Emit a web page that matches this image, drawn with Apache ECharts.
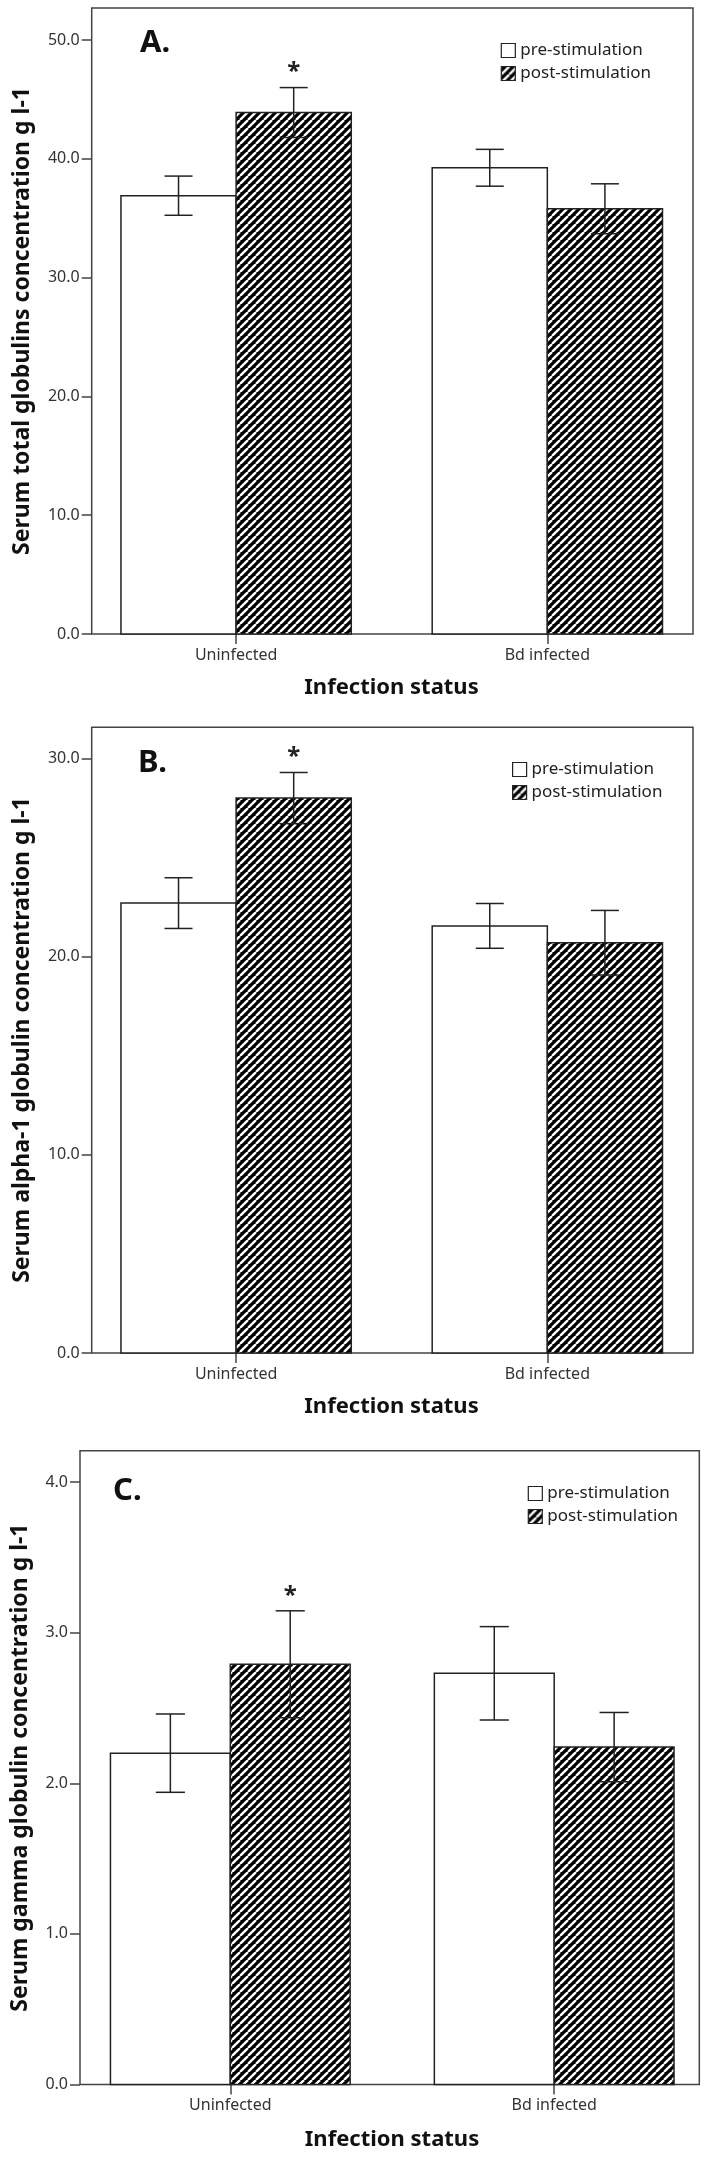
<!DOCTYPE html>
<html><head><meta charset="utf-8">
<script src="https://cdn.jsdelivr.net/npm/echarts@6/dist/echarts.min.js"></script>
<style>html,body{margin:0;padding:0;background:#fff}#c{width:709px;height:2157px}</style>
</head><body><div id="c"></div>
<script>
// ---- data ----
const categories = ['Uninfected', 'Bd infected'];
const seriesNames = ['pre-stimulation', 'post-stimulation'];
const totalPre = [36.9, 39.25];
const totalPreSE = [1.65, 1.55];
const totalPost = [43.9, 35.8];
const totalPostSE = [2.1, 2.1];
const alphaPre = [22.7, 21.55];
const alphaPreSE = [1.28, 1.13];
const alphaPost = [28.0, 20.7];
const alphaPostSE = [1.29, 1.63];
const gammaPre = [2.20, 2.73];
const gammaPreSE = [0.26, 0.31];
const gammaPost = [2.79, 2.24];
const gammaPostSE = [0.355, 0.23];
const significant = [true, false];
const totalTicks = [0, 10, 20, 30, 40, 50];
const alphaTicks = [0, 10, 20, 30];
const gammaTicks = [0, 1, 2, 3, 4];
const panelLetters = ['A.', 'B.', 'C.'];
const yTitles = ['Serum total globulins concentration g l-1', 'Serum alpha-1 globulin concentration g l-1', 'Serum gamma globulin concentration g l-1'];
const xTitle = 'Infection status';

// ---- layout ----
const FONT = 'Noto Sans';
const BW = 0.37;      // bar width in category units
const CAP = 0.09;     // error cap width in category units
const panels = [
  {pre: totalPre, preSE: totalPreSE, post: totalPost, postSE: totalPostSE, ticks: totalTicks, yMax: 52.7,
   left: 91.7, right: 16, top: 8, height: 626, xMin: -0.464, xMax: 1.468,
   legend: [500.7, 42], letter: [140, 43.5], yT: [22.7, 321], xT: [391.5, 688]},
  {pre: alphaPre, preSE: alphaPreSE, post: alphaPost, postSE: alphaPostSE, ticks: alphaTicks, yMax: 31.57,
   left: 91.7, right: 16, top: 727.3, height: 625.7, xMin: -0.464, xMax: 1.468,
   legend: [512, 761], letter: [138, 763.3], yT: [22, 1040], xT: [391.5, 1406.4]},
  {pre: gammaPre, preSE: gammaPreSE, post: gammaPost, postSE: gammaPostSE, ticks: gammaTicks, yMax: 4.208,
   left: 80, right: 9.7, top: 1450.7, height: 633.8, xMin: -0.464, xMax: 1.448,
   legend: [527.7, 1485], letter: [113, 1490.7], yT: [20.2, 1767.6], xT: [392, 2139.3]}
];

function makeHatch(p, w) {
  const c = document.createElement('canvas');
  c.width = p; c.height = p;
  const g = c.getContext('2d');
  g.fillStyle = '#000'; g.fillRect(0, 0, p, p);
  g.strokeStyle = '#fff'; g.lineWidth = w;
  for (const k of [-p, 0, p]) { g.beginPath(); g.moveTo(k, p); g.lineTo(k + p, 0); g.stroke(); }
  return c;
}
const hatch = {image: makeHatch(8, 2.4), repeat: 'repeat'};

function renderer(isPost) {
  return function (params, api) {
    const cat = api.value(0), v = api.value(1), se = api.value(2), sig = api.value(3);
    const x0 = isPost ? cat : cat - BW, x1 = isPost ? cat + BW : cat, xc = (x0 + x1) / 2;
    const tl = api.coord([x0, v]), br = api.coord([x1, 0]);
    const et = api.coord([xc, v + se]), eb = api.coord([xc, v - se]);
    const cap = api.size([CAP, 0])[0] / 2;
    const ls = {stroke: '#222', lineWidth: 1.5};
    const children = [
      {type: 'rect', shape: {x: tl[0], y: tl[1], width: br[0] - tl[0], height: br[1] - tl[1]},
       style: {fill: isPost ? hatch : '#fff', stroke: '#222', lineWidth: 1.5}},
      {type: 'line', shape: {x1: et[0], y1: et[1], x2: eb[0], y2: eb[1]}, style: ls},
      {type: 'line', shape: {x1: et[0] - cap, y1: et[1], x2: et[0] + cap, y2: et[1]}, style: ls},
      {type: 'line', shape: {x1: eb[0] - cap, y1: eb[1], x2: eb[0] + cap, y2: eb[1]}, style: ls}
    ];
    if (isPost && sig) {
      children.push({type: 'text', x: et[0], y: et[1] - 15,
        style: {text: '*', fontSize: 24, fontWeight: 'bold', fontFamily: FONT, fill: '#222', align: 'center', verticalAlign: 'middle'}});
    }
    return {type: 'group', children};
  };
}

const grid = [], xAxis = [], yAxis = [], series = [], legend = [], graphic = [];
panels.forEach((p, i) => {
  grid.push({left: p.left, right: p.right, top: p.top, height: p.height, show: true,
    borderColor: '#444', borderWidth: 1.5, containLabel: false});
  xAxis.push({type: 'value', gridIndex: i, min: p.xMin, max: p.xMax,
    axisLine: {show: false, onZero: false}, splitLine: {show: false},
    axisTick: {show: true, customValues: [0, 1], length: 10, lineStyle: {color: '#444', width: 1.5}},
    axisLabel: {customValues: [0, 1], formatter: v => categories[Math.round(v)], margin: 13,
      fontSize: 16, color: '#333', fontFamily: FONT}});
  yAxis.push({type: 'value', gridIndex: i, min: 0, max: p.yMax,
    axisLine: {show: false, onZero: false}, splitLine: {show: false},
    axisTick: {show: true, customValues: p.ticks, length: 10, lineStyle: {color: '#444', width: 1.5}},
    axisLabel: {customValues: p.ticks, formatter: v => v.toFixed(1), margin: 12,
      fontSize: 16, color: '#333', fontFamily: FONT}});
  series.push({type: 'custom', name: seriesNames[0], xAxisIndex: i, yAxisIndex: i,
    renderItem: renderer(false), itemStyle: {color: '#fff', borderColor: '#222'},
    data: categories.map((c, k) => [k, p.pre[k], p.preSE[k], 0])});
  series.push({type: 'custom', name: seriesNames[1], xAxisIndex: i, yAxisIndex: i,
    renderItem: renderer(true), itemStyle: {color: '#000', borderColor: '#222'},
    data: categories.map((c, k) => [k, p.post[k], p.postSE[k], significant[k] ? 1 : 0])});
  legend.push({orient: 'vertical', left: p.legend[0], top: p.legend[1], padding: 0,
    itemWidth: 14, itemHeight: 14, itemGap: 6, icon: 'rect', selectedMode: false,
    textStyle: {fontSize: 17, color: '#222', fontFamily: FONT, lineHeight: 14},
    data: [
      {name: seriesNames[0], itemStyle: {color: '#fff', borderColor: '#222', borderWidth: 1.2}},
      {name: seriesNames[1], itemStyle: {color: hatch, borderColor: '#222', borderWidth: 1.2}}
    ]});
  graphic.push({type: 'text', x: p.letter[0], y: p.letter[1],
    style: {text: panelLetters[i], fontSize: 31, fontWeight: 'bold', fontFamily: FONT, fill: '#111', align: 'left', verticalAlign: 'middle'}});
  graphic.push({type: 'text', x: p.yT[0], y: p.yT[1], rotation: Math.PI / 2,
    style: {text: yTitles[i], fontSize: 23, fontWeight: 'bold', fontFamily: FONT, fill: '#111', align: 'center', verticalAlign: 'middle'}});
  graphic.push({type: 'text', x: p.xT[0], y: p.xT[1],
    style: {text: xTitle, fontSize: 22, fontWeight: 'bold', fontFamily: FONT, fill: '#111', align: 'center', verticalAlign: 'middle'}});
});

const chart = echarts.init(document.getElementById('c'), null, {renderer: 'canvas'});
chart.setOption({animation: false, backgroundColor: '#fff', grid, xAxis, yAxis, series, legend, graphic});
</script></body></html>
